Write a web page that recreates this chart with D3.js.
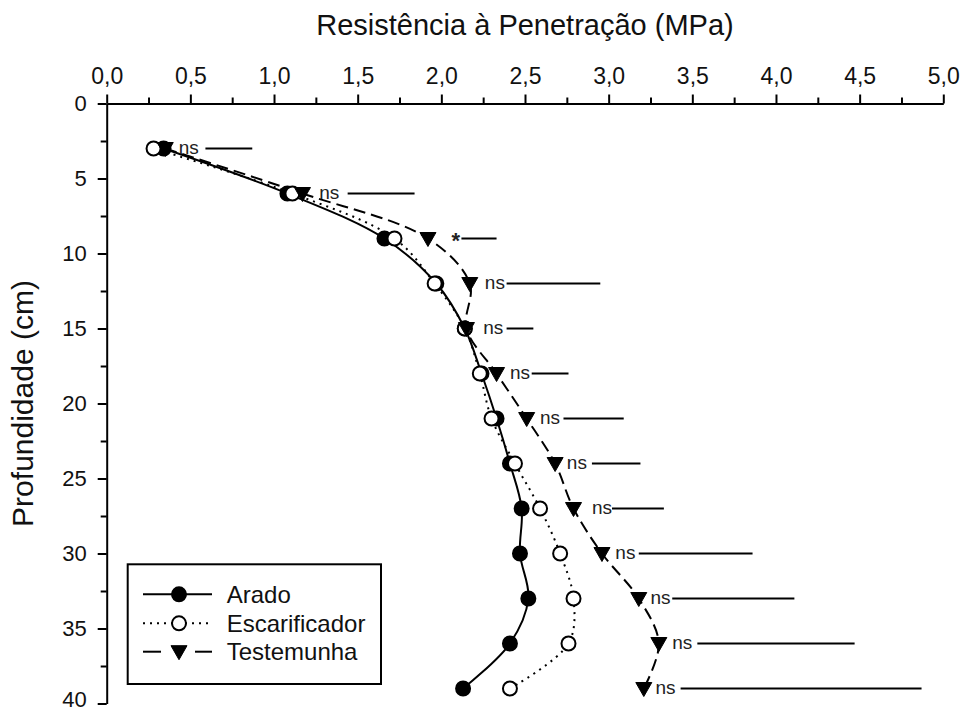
<!DOCTYPE html>
<html>
<head>
<meta charset="utf-8">
<script src="https://cdn.jsdelivr.net/npm/d3@7"></script>
<style>
  html, body { margin: 0; padding: 0; background: #fff; }
  svg { display: block; font-family: "Liberation Sans", Arial, sans-serif; }
</style>
</head>
<body>
<svg id="chart" width="961" height="713"></svg>
<script>
// ---- data ----
const depths        = [3, 6, 9, 12, 15, 18, 21, 24, 27, 30, 33, 36, 39];
const arado         = [0.34, 1.08, 1.66, 1.97, 2.14, 2.24, 2.33, 2.41, 2.48, 2.47, 2.52, 2.41, 2.13];
const escarificador = [0.28, 1.11, 1.72, 1.96, 2.14, 2.23, 2.30, 2.44, 2.59, 2.71, 2.79, 2.76, 2.41];
const testemunha    = [0.35, 1.17, 1.92, 2.17, 2.15, 2.33, 2.51, 2.68, 2.79, 2.96, 3.18, 3.30, 3.21];
const signif        = ["ns", "ns", "*", "ns", "ns", "ns", "ns", "ns", "ns", "ns", "ns", "ns", "ns"];
const signifAt      = [0.43, 1.27, 2.06, 2.26, 2.25, 2.41, 2.59, 2.75, 2.90, 3.04, 3.25, 3.38, 3.28];
const dmsStart      = [0.59, 1.44, 2.12, 2.39, 2.39, 2.54, 2.73, 2.90, 3.02, 3.18, 3.38, 3.53, 3.43];
const dmsEnd        = [0.87, 1.84, 2.33, 2.95, 2.55, 2.76, 3.09, 3.19, 3.33, 3.86, 4.11, 4.47, 4.87];
const xTicks        = [0, 0.5, 1, 1.5, 2, 2.5, 3, 3.5, 4, 4.5, 5];
const yTicks        = [0, 5, 10, 15, 20, 25, 30, 35, 40];
const seriesNames   = ["Arado", "Escarificador", "Testemunha"];
const xTitle = "Resistência à Penetração (MPa)";
const yTitle = "Profundidade (cm)";

// ---- layout ----
const svg = d3.select("#chart");
const pL = 106.7, pR = 943.3, pT = 103.5, pB = 703.5;
const x = d3.scaleLinear().domain([0, 5]).range([pL, pR]);
const y = d3.scaleLinear().domain([0, 40]).range([pT, pB]);
const fmt = v => d3.format(".1f")(v).replace(".", ",");

// minor ticks
const xMinor = d3.range(0.25, 5, 0.5);
const yMinor = d3.range(2.5, 40, 5);
svg.append("g").attr("transform", `translate(0,${pT})`)
  .call(d3.axisTop(x).tickValues(xMinor).tickSize(6).tickSizeOuter(0).tickFormat(""))
  .call(g => g.select(".domain").remove())
  .call(g => g.selectAll("line").attr("stroke", "#000").attr("stroke-width", 2));
svg.append("g").attr("transform", `translate(${pL},0)`)
  .call(d3.axisLeft(y).tickValues(yMinor).tickSize(6).tickSizeOuter(0).tickFormat(""))
  .call(g => g.select(".domain").remove())
  .call(g => g.selectAll("line").attr("stroke", "#000").attr("stroke-width", 2));

// major axes
const gx = svg.append("g").attr("transform", `translate(0,${pT})`)
  .call(d3.axisTop(x).tickValues(xTicks).tickSize(9).tickSizeOuter(0).tickPadding(11).tickFormat(fmt));
const gy = svg.append("g").attr("transform", `translate(${pL},0)`)
  .call(d3.axisLeft(y).tickValues(yTicks).tickSize(9).tickSizeOuter(0).tickPadding(11).tickFormat(d3.format("d")));
[gx, gy].forEach(g => {
  g.select(".domain").attr("stroke", "#000").attr("stroke-width", 2);
  g.selectAll("line").attr("stroke", "#000").attr("stroke-width", 2);
  g.selectAll("text").attr("font-size", 23).attr("fill", "#111")
    .attr("font-family", '"Liberation Sans", Arial, sans-serif');
});
gy.selectAll("text").attr("font-size", 22).attr("dy", d => d === 40 ? "0.12em" : "0.3em");

// titles
svg.append("text").attr("x", (pL + pR) / 2).attr("y", 35)
  .attr("text-anchor", "middle").attr("font-size", 29).attr("fill", "#111").text(xTitle);
svg.append("text").attr("transform", `translate(33,${(pT + pB) / 2}) rotate(-90)`)
  .attr("text-anchor", "middle").attr("font-size", 30).attr("fill", "#111").text(yTitle);

// ---- series ----
const styles = [
  { vals: arado, dash: null, marker: "filled" },
  { vals: escarificador, dash: "2,5", marker: "open" },
  { vals: testemunha, dash: "12,6", marker: "tri" }
];
const line = d3.line().x(d => x(d[0])).y(d => y(d[1])).curve(d3.curveCatmullRom.alpha(0.5));
styles.forEach(s => {
  const pts = depths.map((d, i) => [s.vals[i], d]);
  svg.append("path").attr("d", line(pts)).attr("fill", "none")
    .attr("stroke", "#000").attr("stroke-width", 2)
    .attr("stroke-dasharray", s.dash);
});

const triPath = "M-8,-6 L8,-6 L0,8 Z";
function drawMarker(g, type, cx, cy) {
  if (type === "tri") {
    g.append("path").attr("d", triPath).attr("transform", `translate(${cx},${cy})`)
      .attr("fill", "#000").attr("stroke", "#000").attr("stroke-width", 1);
  } else {
    g.append("circle").attr("cx", cx).attr("cy", cy).attr("r", 7)
      .attr("fill", type === "filled" ? "#000" : "#fff")
      .attr("stroke", "#000").attr("stroke-width", 2);
  }
}
styles.forEach(s => {
  const g = svg.append("g");
  depths.forEach((d, i) => drawMarker(g, s.marker, x(s.vals[i]), y(d)));
});

// significance labels and DMS bars
const sg = svg.append("g");
depths.forEach((d, i) => {
  sg.append("text").attr("x", x(signifAt[i])).attr("y", y(d) + (signif[i] === "*" ? 9 : 5))
    .attr("font-size", signif[i] === "*" ? 22 : 19).attr("fill", "#222")
    .attr("font-weight", signif[i] === "*" ? "bold" : "normal").text(signif[i]);
  sg.append("line").attr("x1", x(dmsStart[i])).attr("x2", x(dmsEnd[i]))
    .attr("y1", y(d)).attr("y2", y(d)).attr("stroke", "#000").attr("stroke-width", 2);
});

// ---- legend ----
const lg = svg.append("g");
lg.append("rect").attr("x", 127.7).attr("y", 564.3).attr("width", 253.3).attr("height", 119.7)
  .attr("fill", "#fff").attr("stroke", "#000").attr("stroke-width", 2);
const rowY = [594.3, 623.3, 651.7];
styles.forEach((s, i) => {
  const ry = rowY[i];
  if (s.marker === "tri") {
    lg.append("line").attr("x1", 143).attr("x2", 161).attr("y1", ry).attr("y2", ry)
      .attr("stroke", "#000").attr("stroke-width", 2);
    lg.append("line").attr("x1", 195).attr("x2", 212).attr("y1", ry).attr("y2", ry)
      .attr("stroke", "#000").attr("stroke-width", 2);
  } else {
    lg.append("line").attr("x1", 143).attr("x2", 212).attr("y1", ry).attr("y2", ry)
      .attr("stroke", "#000").attr("stroke-width", 2).attr("stroke-dasharray", s.dash);
  }
  drawMarker(lg, s.marker, 179, ry);
  lg.append("text").attr("x", 226.7).attr("y", ry).attr("dy", "0.36em")
    .attr("font-size", 24).attr("fill", "#111").text(seriesNames[i]);
});
</script>
</body>
</html>
